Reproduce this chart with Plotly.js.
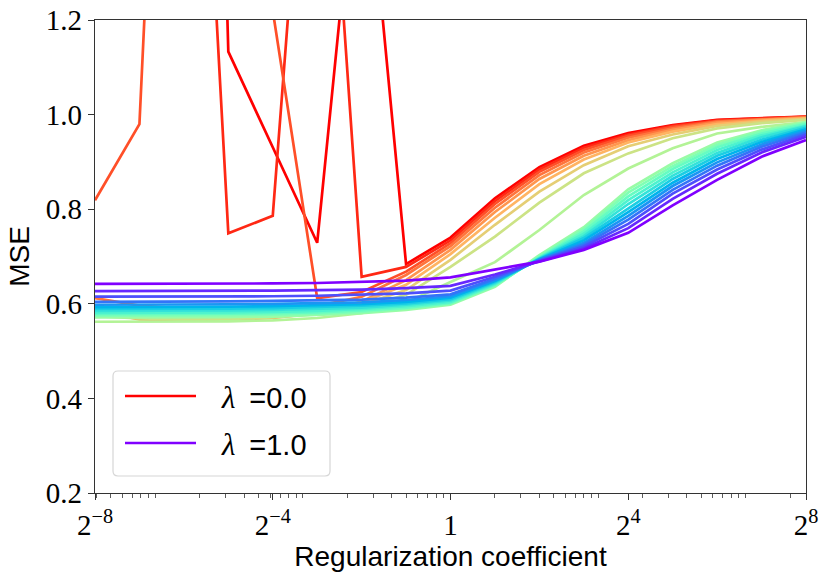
<!DOCTYPE html>
<html><head><meta charset="utf-8">
<script src="https://cdn.plot.ly/plotly-3.0.1.min.js"></script>
<style>html,body{margin:0;padding:0;background:#fff}</style>
</head><body><div id="chart" style="width:830px;height:579px"></div>
<script>
// Regularization coefficient (x), 2^-8 ... 2^8
const regCoef = [0.00390625, 0.0078125, 0.015625, 0.03125, 0.0625, 0.125, 0.25, 0.5, 1, 2, 4, 8, 16, 32, 64, 128, 256];
const lambdas = [0.0, 0.05, 0.1, 0.15, 0.2, 0.25, 0.3, 0.35, 0.4, 0.45, 0.5, 0.55, 0.6, 0.65, 0.7, 0.75, 0.8, 0.85, 0.9, 0.95, 1.0];

// MSE per lambda
const mse_000 = [2.6, 3.3, 4.5, 1.133, 0.931, 0.729, 1.67, 0.684, 0.740, 0.823, 0.889, 0.934, 0.961, 0.978, 0.989, 0.993, 0.996];
const mse_005 = [2.1, 2.3, 2.47, 0.749, 0.786, 2.01, 0.657, 0.678, 0.734, 0.817, 0.884, 0.930, 0.958, 0.976, 0.988, 0.992, 0.995];
const mse_010 = [0.819, 0.98, 2.98, 2.2, 1.22, 0.612, 0.625, 0.668, 0.728, 0.811, 0.879, 0.925, 0.955, 0.974, 0.986, 0.991, 0.995];
const mse_015 = [0.612, 0.596, 0.590, 0.588, 0.589, 0.595, 0.615, 0.661, 0.722, 0.803, 0.872, 0.920, 0.951, 0.971, 0.985, 0.990, 0.994];
const mse_020 = [0.585, 0.567, 0.566, 0.567, 0.570, 0.580, 0.605, 0.650, 0.714, 0.794, 0.864, 0.913, 0.946, 0.968, 0.983, 0.989, 0.993];
const mse_025 = [0.583, 0.577, 0.575, 0.576, 0.579, 0.587, 0.603, 0.640, 0.705, 0.782, 0.853, 0.905, 0.941, 0.964, 0.980, 0.987, 0.992];
const mse_030 = [0.579, 0.573, 0.571, 0.572, 0.575, 0.583, 0.598, 0.629, 0.693, 0.767, 0.837, 0.893, 0.933, 0.958, 0.976, 0.985, 0.991];
const mse_035 = [0.574, 0.569, 0.567, 0.568, 0.571, 0.578, 0.592, 0.619, 0.678, 0.742, 0.814, 0.876, 0.918, 0.950, 0.971, 0.982, 0.989];
const mse_040 = [0.562, 0.562, 0.562, 0.563, 0.565, 0.570, 0.580, 0.603, 0.646, 0.688, 0.756, 0.830, 0.886, 0.929, 0.960, 0.974, 0.984];
const mse_045 = [0.571, 0.571, 0.571, 0.572, 0.573, 0.576, 0.580, 0.587, 0.598, 0.636, 0.703, 0.762, 0.842, 0.897, 0.941, 0.967, 0.984];
const mse_050 = [0.575, 0.575, 0.575, 0.576, 0.577, 0.579, 0.583, 0.590, 0.600, 0.638, 0.700, 0.758, 0.835, 0.891, 0.936, 0.964, 0.982];
const mse_055 = [0.578, 0.578, 0.578, 0.579, 0.580, 0.582, 0.586, 0.592, 0.602, 0.640, 0.698, 0.753, 0.827, 0.885, 0.931, 0.960, 0.980];
const mse_060 = [0.581, 0.581, 0.581, 0.582, 0.583, 0.585, 0.589, 0.595, 0.604, 0.642, 0.697, 0.748, 0.819, 0.878, 0.925, 0.956, 0.977];
const mse_065 = [0.585, 0.585, 0.585, 0.586, 0.587, 0.589, 0.592, 0.598, 0.607, 0.644, 0.696, 0.743, 0.811, 0.871, 0.919, 0.952, 0.975];
const mse_070 = [0.589, 0.589, 0.589, 0.590, 0.591, 0.593, 0.596, 0.601, 0.610, 0.646, 0.695, 0.739, 0.802, 0.864, 0.913, 0.947, 0.972];
const mse_075 = [0.593, 0.593, 0.593, 0.594, 0.595, 0.597, 0.599, 0.604, 0.613, 0.648, 0.694, 0.734, 0.794, 0.856, 0.906, 0.942, 0.969];
const mse_080 = [0.598, 0.598, 0.598, 0.599, 0.600, 0.601, 0.603, 0.608, 0.616, 0.650, 0.693, 0.729, 0.786, 0.849, 0.899, 0.937, 0.966];
const mse_085 = [0.604, 0.604, 0.604, 0.605, 0.606, 0.607, 0.609, 0.613, 0.620, 0.653, 0.692, 0.725, 0.778, 0.841, 0.892, 0.932, 0.962];
const mse_090 = [0.615, 0.615, 0.615, 0.616, 0.616, 0.617, 0.619, 0.622, 0.628, 0.657, 0.691, 0.721, 0.769, 0.833, 0.884, 0.926, 0.958];
const mse_095 = [0.627, 0.627, 0.627, 0.628, 0.628, 0.629, 0.630, 0.633, 0.638, 0.662, 0.690, 0.717, 0.760, 0.822, 0.875, 0.920, 0.953];
const mse_100 = [0.642, 0.642, 0.642, 0.643, 0.643, 0.644, 0.646, 0.649, 0.656, 0.673, 0.689, 0.714, 0.750, 0.808, 0.862, 0.911, 0.946];

const series = [mse_000, mse_005, mse_010, mse_015, mse_020, mse_025, mse_030, mse_035, mse_040, mse_045,
  mse_050, mse_055, mse_060, mse_065, mse_070, mse_075, mse_080, mse_085, mse_090, mse_095, mse_100];

const xTickVals = [0.00390625, 0.0625, 1, 16, 256];
const xTickText = ['2<sup>\u22128</sup>', '2<sup>\u22124</sup>', '1', '2<sup>4</sup>', '2<sup>8</sup>'];
const yTickVals = [0.2, 0.4, 0.6, 0.8, 1.0, 1.2];
const yTickText = ['0.2', '0.4', '0.6', '0.8', '1.0', '1.2'];
const legendLambdas = [0.0, 1.0];

// matplotlib "rainbow" colormap
function rainbow(t) {
  const c = v => Math.round(255 * Math.max(0, Math.min(1, v)));
  return 'rgb(' + c(Math.abs(2 * t - 0.5)) + ',' + c(Math.sin(Math.PI * t)) + ',' + c(Math.cos(Math.PI * t / 2)) + ')';
}

const serif = "Liberation Serif, DejaVu Serif, serif";
const sans = "Liberation Sans, DejaVu Sans, sans-serif";
const LW = 2.7;

const traces = series.map((ys, k) => ({
  x: regCoef, y: ys, type: 'scatter', mode: 'lines',
  line: {color: rainbow(1 - lambdas[k]), width: LW},
  name: '\u03bb =' + lambdas[k].toFixed(1),
  showlegend: false, hoverinfo: 'skip'
}));

// base-10 minor ticks like matplotlib's log locator
const minorVals = [];
for (let e = -3; e <= 2; e++) for (let m = 1; m <= 9; m++) {
  const v = m * Math.pow(10, e);
  if (v > 0.0039 && v < 256) minorVals.push(v);
}

// legend box (matplotlib style), drawn in paper coordinates
const PW = 711, PH = 473;
const px = v => (v - 95) / PW;          // pixel x -> paper
const py = v => (493 - v) / PH;         // pixel y -> paper
function roundRect(x0, y0, x1, y1, r) {
  const rx = r / PW, ry = r / PH;
  const X0 = px(x0), X1 = px(x1), Y0 = py(y1), Y1 = py(y0);
  return 'M' + (X0 + rx) + ',' + Y0 + ' L' + (X1 - rx) + ',' + Y0 + ' Q' + X1 + ',' + Y0 + ' ' + X1 + ',' + (Y0 + ry) +
    ' L' + X1 + ',' + (Y1 - ry) + ' Q' + X1 + ',' + Y1 + ' ' + (X1 - rx) + ',' + Y1 +
    ' L' + (X0 + rx) + ',' + Y1 + ' Q' + X0 + ',' + Y1 + ' ' + X0 + ',' + (Y1 - ry) +
    ' L' + X0 + ',' + (Y0 + ry) + ' Q' + X0 + ',' + Y0 + ' ' + (X0 + rx) + ',' + Y0 + ' Z';
}
const shapes = [{
  type: 'path', xref: 'paper', yref: 'paper', path: roundRect(113, 371, 330, 476, 5),
  fillcolor: 'rgba(255,255,255,0.8)', line: {color: '#d6d6d6', width: 1.2}, layer: 'above'
}];
const annotations = [];
const rowsY = [396, 443];
legendLambdas.forEach((lam, j) => {
  shapes.push({type: 'line', xref: 'paper', yref: 'paper', x0: px(125), x1: px(196), y0: py(rowsY[j]), y1: py(rowsY[j]),
    line: {color: rainbow(1 - lam), width: LW}, layer: 'above'});
  annotations.push({xref: 'paper', yref: 'paper', x: px(219), y: py(rowsY[j] + 1), xanchor: 'left', yanchor: 'middle',
    showarrow: false, align: 'left',
    text: '<span style="font-family:' + serif + ';font-size:31px"><i>\u03bb</i></span>\u2009 =' + lam.toFixed(1),
    font: {family: sans, size: 29, color: '#000'}});
});

const layout = {
  width: 830, height: 579,
  margin: {l: 95, r: 24, t: 20, b: 86},
  paper_bgcolor: '#fff', plot_bgcolor: '#fff',
  showlegend: false,
  shapes: shapes, annotations: annotations,
  xaxis: {
    type: 'log', range: [Math.log10(0.00390625), Math.log10(256)],
    tickmode: 'array', tickvals: xTickVals, ticktext: xTickText,
    ticks: 'outside', ticklen: 6, tickwidth: 1, tickcolor: '#333',
    minor: {tickmode: 'array', tickvals: minorVals, ticks: 'outside', ticklen: 3.5, tickwidth: 0.8, tickcolor: '#333', showgrid: false},
    showgrid: false, zeroline: false,
    showline: true, linecolor: '#333', linewidth: 1.3, mirror: true,
    tickfont: {family: serif, size: 29, color: '#000'},
    title: {text: 'Regularization coefficient', font: {family: sans, size: 28, color: '#000'}, standoff: 4}
  },
  yaxis: {
    range: [0.2, 1.2], tickmode: 'array', tickvals: yTickVals, ticktext: yTickText,
    ticks: 'outside', ticklen: 6, tickwidth: 1, tickcolor: '#333',
    showgrid: false, zeroline: false,
    showline: true, linecolor: '#333', linewidth: 1.3, mirror: true,
    tickfont: {family: serif, size: 29, color: '#000'},
    title: {text: 'MSE', font: {family: sans, size: 28, color: '#000'}, standoff: 8}
  }
};

Plotly.newPlot('chart', traces, layout, {staticPlot: true, displayModeBar: false});
</script>
</body></html>
